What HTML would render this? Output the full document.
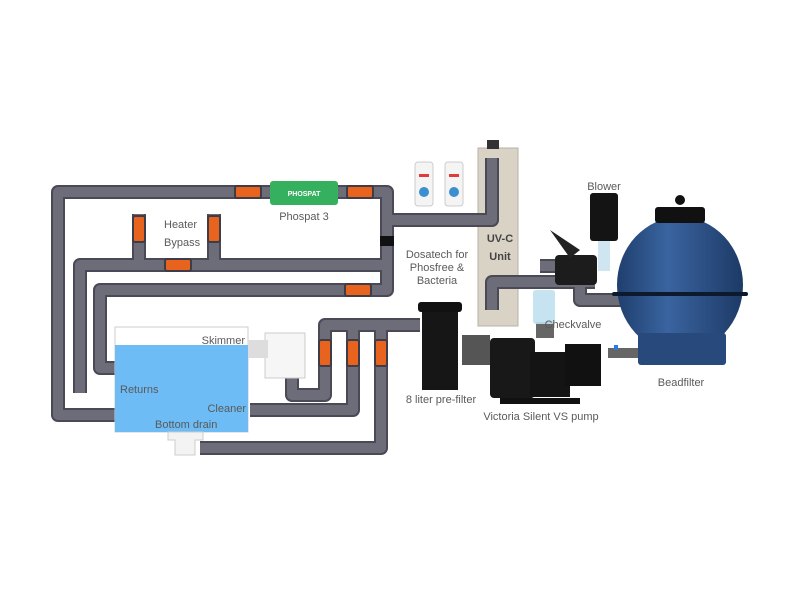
<!DOCTYPE html>
<html><head><meta charset="utf-8"><style>
html,body{margin:0;padding:0;background:#fff;width:800px;height:600px;overflow:hidden}
text{font-family:"Liberation Sans",sans-serif;font-size:11px;fill:#5a5a5a}
</style></head><body>
<svg width="800" height="600" viewBox="0 0 800 600" xmlns="http://www.w3.org/2000/svg">
<defs>
<linearGradient id="bf" x1="0" x2="1"><stop offset="0" stop-color="#1f3f6e"/><stop offset=".4" stop-color="#3a64a0"/><stop offset="1" stop-color="#1d3a66"/></linearGradient>
</defs>
<!-- UV unit -->
<rect x="478" y="148" width="40" height="178" fill="#d9d3c6" stroke="#b8b2a6"/>
<rect x="487" y="140" width="12" height="9" fill="#333"/>
<g fill="none" stroke-linejoin="round" stroke-linecap="butt">
<g stroke="#4a4955" stroke-width="14">
<path d="M115 415 H58 V192 H387 V290 H100 V368 H115"/>
<path d="M80 393 V265 H387"/>
<path d="M139 265 V214 M214 265 V214"/>
<path d="M387 220 H492 V158"/>
<path d="M292 375 V395 H325 V325 H420"/>
<path d="M250 410 H353 V330"/>
<path d="M200 448 H381 V330"/>
<path d="M492 310 V282 H595"/>
<path d="M540 266 H580 V300 H640"/>
</g>
<g stroke="#6d6c79" stroke-width="10">
<path d="M115 415 H58 V192 H387 V290 H100 V368 H115"/>
<path d="M80 393 V265 H387"/>
<path d="M139 265 V214 M214 265 V214"/>
<path d="M387 220 H492 V158"/>
<path d="M292 375 V395 H325 V325 H420"/>
<path d="M250 410 H353 V330"/>
<path d="M200 448 H381 V330"/>
<path d="M492 310 V282 H595"/>
<path d="M540 266 H580 V300 H640"/>
</g>
</g>
<text x="500" y="242" text-anchor="middle" style="fill:#444;font-weight:bold">UV-C</text>
<text x="500" y="260" text-anchor="middle" style="fill:#444;font-weight:bold">Unit</text>
<!-- Phospat -->
<rect x="270" y="181" width="68" height="24" rx="3" fill="#35b05e"/>
<text x="304" y="196" text-anchor="middle" style="fill:#fff;font-size:7px;font-weight:bold">PHOSPAT</text>
<!-- valves -->
<g fill="#e8641e" stroke="#3d3c48" stroke-width="2">
<rect x="235" y="186" width="26" height="12" rx="2"/>
<rect x="347" y="186" width="26" height="12" rx="2"/>
<rect x="165" y="259" width="26" height="12" rx="2"/>
<rect x="345" y="284" width="26" height="12" rx="2"/>
<rect x="133" y="216" width="12" height="26" rx="2"/>
<rect x="208" y="216" width="12" height="26" rx="2"/>
<rect x="319" y="340" width="12" height="26" rx="2"/>
<rect x="347" y="340" width="12" height="26" rx="2"/>
<rect x="375" y="340" width="12" height="26" rx="2"/>
</g>
<rect x="380" y="236" width="14" height="10" fill="#111"/>
<!-- Dosatech -->
<rect x="415" y="162" width="18" height="44" rx="3" fill="#f4f4f4" stroke="#ccc"/>
<rect x="445" y="162" width="18" height="44" rx="3" fill="#f4f4f4" stroke="#ccc"/>
<rect x="419" y="174" width="10" height="3" fill="#e03a3a"/><rect x="449" y="174" width="10" height="3" fill="#e03a3a"/>
<circle cx="424" cy="192" r="5" fill="#3b8fd0"/><circle cx="454" cy="192" r="5" fill="#3b8fd0"/>
<!-- Pool -->
<rect x="115" y="327" width="133" height="105" fill="#fff" stroke="#ccc"/>
<rect x="115" y="345" width="133" height="87" fill="#6dbcf5"/>
<rect x="265" y="333" width="40" height="45" fill="#f6f6f6" stroke="#ccc"/>
<rect x="248" y="340" width="20" height="18" fill="#ddd"/>
<path d="M168 432 h35 v8 h-8 v15 h-20 v-15 h-7z" fill="#f3f3f3" stroke="#ccc"/>
<!-- prefilter -->
<rect x="418" y="302" width="44" height="10" rx="3" fill="#111"/>
<rect x="422" y="312" width="36" height="78" fill="#161616"/>
<rect x="462" y="335" width="28" height="30" fill="#555"/>
<!-- pump -->
<rect x="490" y="338" width="45" height="60" rx="4" fill="#181818"/>
<rect x="530" y="352" width="40" height="45" fill="#141414"/>
<rect x="565" y="344" width="36" height="42" fill="#111"/>
<rect x="500" y="398" width="80" height="6" fill="#111"/>
<rect x="536" y="322" width="18" height="16" fill="#666"/>
<!-- checkvalve -->
<rect x="533" y="290" width="22" height="34" rx="3" fill="#bfe0f0" opacity=".9"/>
<!-- multiport valve -->
<rect x="555" y="255" width="42" height="30" rx="4" fill="#1c1c1c"/>
<path d="M550 230 L580 250 L570 258z" fill="#222"/>
<!-- blower -->
<rect x="590" y="193" width="28" height="48" rx="3" fill="#141414"/>
<rect x="598" y="241" width="12" height="30" fill="#cfe6f2"/>
<!-- bead filter -->
<ellipse cx="680" cy="285" rx="63" ry="68" fill="url(#bf)"/>
<rect x="638" y="333" width="88" height="32" rx="3" fill="#28497c"/>
<rect x="655" y="207" width="50" height="16" rx="3" fill="#111"/>
<circle cx="680" cy="200" r="5" fill="#111"/>
<rect x="612" y="292" width="136" height="4" rx="2" fill="#0d1a2d"/>
<rect x="608" y="348" width="30" height="10" fill="#666"/>
<rect x="614" y="345" width="4" height="5" fill="#2d7be0"/>
<!-- labels -->
<text x="304" y="220" text-anchor="middle">Phospat 3</text>
<text x="164" y="228">Heater</text>
<text x="164" y="246">Bypass</text>
<text x="437" y="258" text-anchor="middle">Dosatech for</text>
<text x="437" y="271" text-anchor="middle">Phosfree &amp;</text>
<text x="437" y="284" text-anchor="middle">Bacteria</text>
<text x="604" y="190" text-anchor="middle">Blower</text>
<text x="573" y="328" text-anchor="middle">Checkvalve</text>
<text x="681" y="386" text-anchor="middle">Beadfilter</text>
<text x="441" y="403" text-anchor="middle">8 liter pre-filter</text>
<text x="541" y="420" text-anchor="middle">Victoria Silent VS pump</text>
<text x="245" y="344" text-anchor="end">Skimmer</text>
<text x="120" y="393">Returns</text>
<text x="246" y="412" text-anchor="end">Cleaner</text>
<text x="155" y="428">Bottom drain</text>
</svg>
</body></html>
